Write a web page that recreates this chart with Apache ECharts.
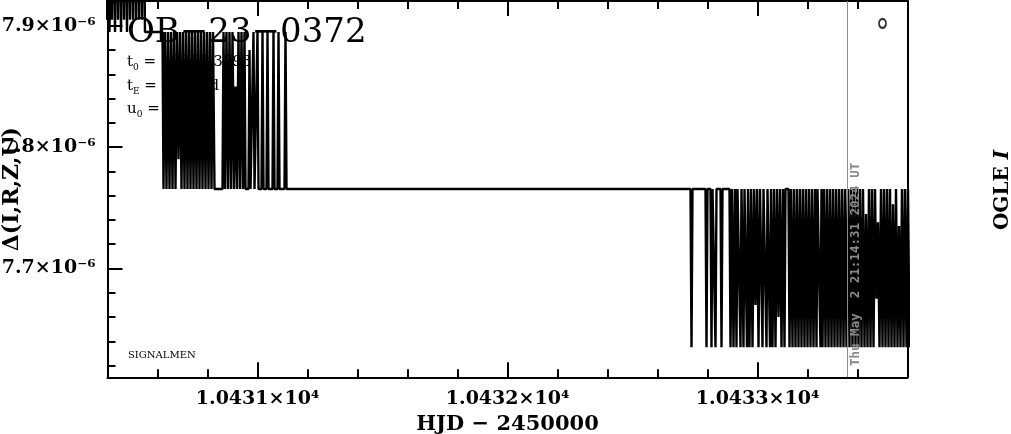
<!DOCTYPE html>
<html>
<head>
<meta charset="utf-8">
<script src="https://cdn.jsdelivr.net/npm/echarts@6/dist/echarts.min.js"></script>
<style>html,body{margin:0;padding:0;background:#fff;}#c{width:1011px;height:434px;}</style>
</head>
<body>
<div id="c"></div>
<script>
// Time in HJD - 2450000, and Delta(I,R,Z,U) in units of 1e-6, three stretches of the light curve
const hjdA = [
 10430.368,10430.374,10430.380,10430.386,10430.392,10430.398,10430.404,10430.408,10430.412,10430.418,
 10430.424,10430.430,10430.436,10430.442,10430.448,10430.454,10430.460,10430.466,10430.472,10430.478,
 10430.484,10430.490,10430.496,10430.502,10430.508,10430.514,10430.520,10430.526,10430.532,10430.538,
 10430.544,10430.550];
const deltaA = [
 8.03,7.905,8.03,7.905,8.03,7.905,8.03,7.895,8.03,7.905,
 8.03,7.895,8.03,7.905,8.03,7.895,8.03,7.905,8.03,7.895,
 8.03,7.905,8.03,7.905,8.03,7.905,8.03,7.905,8.03,7.905,
 8.03,7.895];
const hjdB = [
 10430.620,10430.624,10430.630,10430.636,10430.642,10430.648,10430.654,10430.660,10430.666,10430.672,
 10430.678,10430.684,10430.690,10430.696,10430.702,10430.708,10430.714,10430.720,10430.726,10430.732,
 10430.738,10430.744,10430.750,10430.756,10430.762,10430.768,10430.774,10430.780,10430.786,10430.792,
 10430.798,10430.804,10430.810,10430.816,10430.822,10430.828,
 10430.860,10430.864,10430.870,10430.876,10430.882,10430.888,10430.894,10430.900,10430.906,10430.912,
 10430.918,10430.924,10430.930,10430.936,10430.942,10430.948,10430.952,
 10430.964,10430.968,10430.972,10430.980,10430.984,10430.988,10430.996,10431.000,10431.004,10431.016,
 10431.020,10431.024,10431.036,10431.040,10431.044,10431.060,10431.064,10431.068,10431.080,10431.084,
 10431.088,10431.108,10431.112,10431.116];
const deltaB = [
 7.895,7.7655,7.895,7.7655,7.895,7.7655,7.895,7.7655,7.895,7.7655,
 7.895,7.79,7.895,7.7655,7.895,7.7655,7.895,7.7655,7.895,7.7655,
 7.895,7.7655,7.895,7.7655,7.895,7.7655,7.895,7.7655,7.895,7.7655,
 7.895,7.7655,7.895,7.7655,7.895,7.7655,
 7.7655,7.895,7.7655,7.895,7.7655,7.895,7.7655,7.895,7.7655,7.85,
 7.7655,7.895,7.7655,7.895,7.7655,7.895,7.7655,
 7.7655,7.88,7.7655,7.7655,7.895,7.7655,7.7655,7.895,7.7655,7.7655,
 7.895,7.7655,7.7655,7.895,7.7655,7.7655,7.895,7.7655,7.7655,7.895,
 7.7655,7.7655,7.895,7.7655];
const hjdC = [
 10432.732,10432.736,10432.740,10432.792,10432.796,10432.800,10432.812,10432.816,10432.820,10432.828,
 10432.832,10432.836,10432.852,10432.856,10432.860,10432.888,10432.892,10432.898,10432.904,10432.910,
 10432.916,10432.920,10432.928,10432.932,10432.936,10432.940,10432.944,10432.948,10432.954,10432.958,
 10432.962,10432.968,10432.974,10432.980,10432.986,10432.992,10432.998,10433.004,10433.010,10433.016,
 10433.020,10433.024,10433.032,10433.036,10433.040,10433.046,10433.050,10433.054,10433.060,10433.066,
 10433.072,10433.078,10433.084,10433.090,10433.096,10433.102,10433.108,10433.112,10433.124,10433.128,
 10433.134,10433.140,10433.146,10433.152,10433.158,10433.164,10433.170,10433.176,10433.182,10433.188,
 10433.194,10433.200,10433.206,10433.212,10433.218,10433.224,10433.230,10433.236,10433.240,10433.248,
 10433.252,10433.256,10433.260,10433.266,10433.272,10433.278,10433.284,10433.290,10433.296,10433.302,
 10433.308,10433.314,10433.320,10433.326,10433.332,10433.338,10433.344,10433.350,10433.356,10433.362,
 10433.368,10433.374,10433.380,10433.386,10433.392,10433.398,10433.404,10433.410,10433.416,10433.422,
 10433.428,10433.434,10433.440,10433.446,10433.452,10433.458,10433.464,10433.470,10433.476,10433.482,
 10433.488,10433.494,10433.500,10433.506,10433.512,10433.518,10433.524,10433.530,10433.536,10433.542,
 10433.548,10433.554,10433.560,10433.566,10433.572,10433.578,10433.584,10433.590,10433.596,10433.602,
 10433.608];
const deltaC = [
 7.7655,7.635,7.7655,7.7655,7.635,7.7655,7.7655,7.635,7.7655,7.7655,
 7.635,7.7655,7.7655,7.635,7.7655,7.7655,7.635,7.7655,7.635,7.7655,
 7.635,7.7655,7.7655,7.635,7.7655,7.7655,7.635,7.7655,7.7655,7.635,
 7.7655,7.635,7.7655,7.635,7.7655,7.67,7.7655,7.635,7.7655,7.7655,
 7.635,7.7655,7.7655,7.635,7.7655,7.7655,7.635,7.7655,7.635,7.7655,
 7.635,7.7655,7.66,7.7655,7.635,7.7655,7.635,7.7655,7.7655,7.635,
 7.7655,7.635,7.7655,7.635,7.7655,7.635,7.7655,7.635,7.7655,7.635,
 7.7655,7.635,7.7655,7.635,7.7655,7.635,7.7655,7.635,7.7655,7.7655,
 7.635,7.7655,7.635,7.7655,7.635,7.7655,7.635,7.7655,7.635,7.7655,
 7.635,7.7655,7.635,7.7655,7.635,7.7655,7.635,7.7655,7.635,7.7655,
 7.635,7.7655,7.635,7.7655,7.635,7.7655,7.635,7.7655,7.635,7.7655,
 7.635,7.745,7.635,7.7655,7.635,7.7655,7.635,7.7655,7.675,7.738,
 7.635,7.7655,7.635,7.7655,7.635,7.7655,7.635,7.7655,7.635,7.753,
 7.635,7.7655,7.635,7.735,7.635,7.7655,7.635,7.7655,7.635,7.7655,
 7.635];
const marker = [[10433.5, 7.902]];
const nowLine = 10433.357;
const xMajor = [10431, 10432, 10433];
const xMinor = [10430.6,10430.8,10431.2,10431.4,10431.6,10431.8,10432.2,10432.4,10432.6,10432.8,10433.2,10433.4];
const yMajor = [7.7, 7.8, 7.9];
const yMinor = [7.62,7.64,7.66,7.68,7.72,7.74,7.76,7.78,7.82,7.84,7.86,7.88,7.92];

const serif = '"DejaVu Serif", "Liberation Serif", serif';
const hjd = hjdA.concat(hjdB, hjdC);
const delta = deltaA.concat(deltaB, deltaC);
const lineData = hjd.map((t, i) => [t, delta[i]]);
const xRange = {min: 10430.4, max: 10433.6};
const yRange = {min: 7.6103, max: 7.9205};
const ax = {lineStyle: {color: '#000', width: 2}};
const xLab = v => (v / 1e4).toFixed(4) + '×10⁴';
const yLab = v => v.toFixed(1) + '×10⁻⁶';
const tick = {color: '#000', width: 2};

const chart = echarts.init(document.getElementById('c'), null, {renderer: 'canvas'});
chart.setOption({
  animation: false,
  backgroundColor: '#fff',
  grid: {left: 107.5, right: 103.5, top: 1, bottom: 56.7, containLabel: false, outerBoundsMode: 'none'},
  xAxis: [
    {type: 'value', position: 'bottom', ...xRange, axisLine: ax, splitLine: {show: false},
     axisTick: {inside: true, length: 8, customValues: xMinor, lineStyle: tick},
     axisLabel: {customValues: xMajor, formatter: xLab, margin: 12, fontFamily: serif, fontSize: 19, fontWeight: 'bold', color: '#000'},
     name: 'HJD − 2450000', nameLocation: 'middle', nameGap: 37, nameMoveOverlap: false,
     nameTextStyle: {fontFamily: serif, fontSize: 21, fontWeight: 'bold', color: '#000'}},
    {type: 'value', position: 'bottom', ...xRange, axisLine: {show: false}, splitLine: {show: false},
     axisTick: {inside: true, length: 15, customValues: xMajor, lineStyle: tick},
     axisLabel: {show: false}},
    {type: 'value', position: 'top', ...xRange, axisLine: ax, splitLine: {show: false},
     axisTick: {inside: true, length: 8, customValues: xMinor, lineStyle: tick},
     axisLabel: {show: false}},
    {type: 'value', position: 'top', ...xRange, axisLine: {show: false}, splitLine: {show: false},
     axisTick: {inside: true, length: 15, customValues: xMajor, lineStyle: tick},
     axisLabel: {show: false}}
  ],
  yAxis: [
    {type: 'value', position: 'left', ...yRange, axisLine: ax, splitLine: {show: false},
     axisTick: {inside: true, length: 8, customValues: yMinor, lineStyle: tick},
     axisLabel: {customValues: yMajor, formatter: yLab, margin: 12, fontFamily: serif, fontSize: 19, fontWeight: 'bold', color: '#000'},
     name: 'Δ(I,R,Z,U)', nameLocation: 'middle', nameGap: 84, nameMoveOverlap: false,
     nameTextStyle: {fontFamily: serif, fontSize: 22, fontWeight: 'bold', color: '#000'}},
    {type: 'value', position: 'left', ...yRange, axisLine: {show: false}, splitLine: {show: false},
     axisTick: {inside: true, length: 15, customValues: yMajor, lineStyle: tick},
     axisLabel: {show: false}},
    {type: 'value', position: 'right', ...yRange, axisLine: ax, splitLine: {show: false},
     axisTick: {show: false}, axisLabel: {show: false}}
  ],
  series: [
    {type: 'line', data: lineData, showSymbol: false, symbol: 'none', clip: true, z: 2,
     lineStyle: {color: '#000', width: 2.4}, silent: true,
     markLine: {silent: true, symbol: ['none', 'none'], label: {show: false},
       lineStyle: {color: '#8c8c8c', width: 1, type: 'solid'}, data: [{xAxis: nowLine}]}},
    {type: 'scatter', data: marker, symbol: 'circle', symbolSize: [7, 9], z: 3,
     itemStyle: {color: '#fff', borderColor: '#000', borderWidth: 2}, silent: true}
  ],
  graphic: [
    {type: 'text', x: 127, y: 33, z: 100, style: {text: 'OB−23−0372', fontFamily: serif, fontSize: 34, fill: '#000', verticalAlign: 'middle'}},
    {type: 'text', x: 127, y: 62, z: 100, style: {text: 't{s|0} = 10357.3293', fontFamily: serif, fontSize: 15, lineHeight: 20, fill: '#000', verticalAlign: 'middle',
      rich: {s: {fontFamily: serif, fontSize: 9, verticalAlign: 'bottom'}}}},
    {type: 'text', x: 127, y: 86, z: 100, style: {text: 't{s|E} = 15.39 d', fontFamily: serif, fontSize: 15, lineHeight: 20, fill: '#000', verticalAlign: 'middle',
      rich: {s: {fontFamily: serif, fontSize: 9, verticalAlign: 'bottom'}}}},
    {type: 'text', x: 127, y: 109, z: 100, style: {text: 'u{s|0} = 0.160', fontFamily: serif, fontSize: 15, lineHeight: 20, fill: '#000', verticalAlign: 'middle',
      rich: {s: {fontFamily: serif, fontSize: 9, verticalAlign: 'bottom'}}}},
    {type: 'text', x: 128, y: 355, z: 100, style: {text: 'SIGNALMEN', fontFamily: serif, fontSize: 10, fill: '#000', verticalAlign: 'middle'}},
    {type: 'text', x: 856, y: 366, rotation: Math.PI / 2, z: 100, style: {text: 'Thu May  2 21:14:31 2024 UT', fontFamily: '"DejaVu Sans Mono", monospace', fontWeight: 'bold', fontSize: 12.5, fill: '#8a8a8a', align: 'left', verticalAlign: 'middle'}},
    {type: 'text', x: 1003, y: 190, rotation: Math.PI / 2, z: 100, style: {text: 'OGLE {i|I}', fontFamily: serif, fontSize: 20, fontWeight: 'bold', fill: '#000', align: 'center', verticalAlign: 'middle',
      rich: {i: {fontFamily: serif, fontSize: 20, fontWeight: 'bold', fontStyle: 'italic'}}}}
  ]
});
</script>
</body>
</html>
